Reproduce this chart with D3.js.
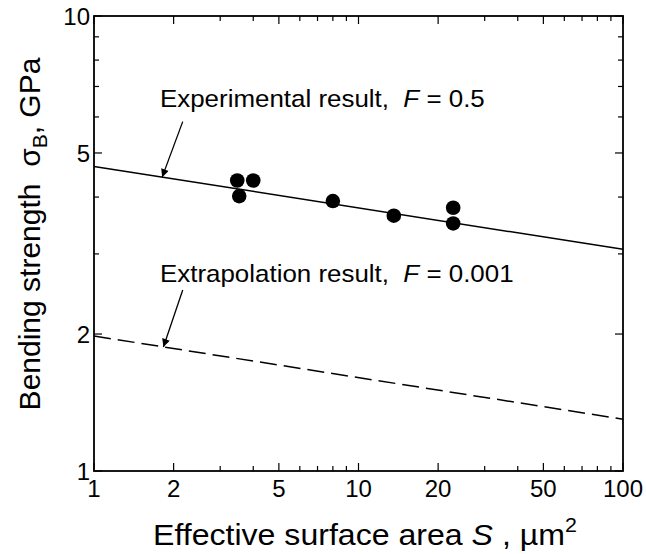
<!DOCTYPE html>
<html>
<head>
<meta charset="utf-8">
<script src="https://cdn.jsdelivr.net/npm/d3@7"></script>
<style>
  body { margin: 0; background: #fff; }
  text { font-family: "Liberation Sans", Arial, sans-serif; fill: #000; }
</style>
</head>
<body>
<div id="chart"></div>
<script>
// data
var pointS     = [3.48, 4.0, 3.54, 8.0, 13.6, 22.8, 22.8];
var pointSigma = [4.35, 4.35, 4.02, 3.92, 3.64, 3.79, 3.50];

var lineS = [1, 100];
var expSigma = [4.67, 3.07];     // experimental, F = 0.5
var extSigma = [1.98, 1.30];     // extrapolation, F = 0.001

var xTicks = [1, 2, 5, 10, 20, 50, 100];
var yTicks = [1, 2, 5, 10];

var width = 646, height = 554;
var margin = {top: 16, right: 23, bottom: 83, left: 94};

var x = d3.scaleLog()
  .domain([1, 100])
  .range([margin.left, width - margin.right]);

var y = d3.scaleLog()
  .domain([1, 10])
  .range([height - margin.bottom, margin.top]);

var svg = d3.select("#chart")
  .append("svg")
  .attr("width", width)
  .attr("height", height);

svg.append("defs")
  .append("marker")
  .attr("id", "arrow")
  .attr("viewBox", "0 0 10 10")
  .attr("refX", 10)
  .attr("refY", 5)
  .attr("markerWidth", 13)
  .attr("markerHeight", 8)
  .attr("markerUnits", "userSpaceOnUse")
  .attr("orient", "auto")
  .append("path")
  .attr("d", "M0,0L10,5L0,10Z")
  .attr("fill", "#000");

// minor ticks = all log ticks, major ones get longer
var allX = x.ticks();
var allY = y.ticks();
var isMajorX = d => xTicks.indexOf(+d.toPrecision(6)) >= 0;
var isMajorY = d => yTicks.indexOf(+d.toPrecision(6)) >= 0;

var ticksG = svg.append("g").attr("stroke", "#000").attr("stroke-width", 1.2);
var x0 = x.range()[0], x1 = x.range()[1];
var y0 = y.range()[0], y1 = y.range()[1];

allX.forEach(function(d) {
  var len = isMajorX(d) ? 8 : 5;
  ticksG.append("line").attr("x1", x(d)).attr("x2", x(d)).attr("y1", y0).attr("y2", y0 - len);
  ticksG.append("line").attr("x1", x(d)).attr("x2", x(d)).attr("y1", y1).attr("y2", y1 + len);
});
allY.forEach(function(d) {
  var len = isMajorY(d) ? 8 : 5;
  ticksG.append("line").attr("y1", y(d)).attr("y2", y(d)).attr("x1", x0).attr("x2", x0 + len);
  ticksG.append("line").attr("y1", y(d)).attr("y2", y(d)).attr("x1", x1).attr("x2", x1 - len);
});

svg.append("rect")
  .attr("x", x0)
  .attr("y", y1)
  .attr("width", x1 - x0)
  .attr("height", y0 - y1)
  .attr("fill", "none")
  .attr("stroke", "#000")
  .attr("stroke-width", 1.8);

// tick labels
svg.append("g")
  .selectAll("text")
  .data(xTicks)
  .join("text")
  .attr("x", d => x(d))
  .attr("y", y0 + 26)
  .attr("text-anchor", "middle")
  .style("font-size", "24px")
  .text(d => d);

svg.append("g")
  .selectAll("text")
  .data(yTicks)
  .join("text")
  .attr("x", x0 - 4)
  .attr("y", d => y(d))
  .attr("dy", "0.36em")
  .attr("text-anchor", "end")
  .style("font-size", "24px")
  .text(d => d);

// fitted lines
var line = d3.line()
  .x(d => x(d[0]))
  .y(d => y(d[1]));

svg.append("path")
  .datum(d3.zip(lineS, expSigma))
  .attr("d", line)
  .attr("fill", "none")
  .attr("stroke", "#000")
  .attr("stroke-width", 1.5);

svg.append("path")
  .datum(d3.zip(lineS, extSigma))
  .attr("d", line)
  .attr("fill", "none")
  .attr("stroke", "#000")
  .attr("stroke-width", 1.5)
  .attr("stroke-dasharray", "17,7");

// measured points
svg.append("g")
  .selectAll("circle")
  .data(d3.zip(pointS, pointSigma))
  .join("circle")
  .attr("cx", d => x(d[0]))
  .attr("cy", d => y(d[1]))
  .attr("r", 7.3)
  .attr("fill", "#000");

// annotations
function expAt(s) {
  var k = Math.log(expSigma[1] / expSigma[0]) / Math.log(lineS[1] / lineS[0]);
  return expSigma[0] * Math.pow(s, k);
}
function extAt(s) {
  var k = Math.log(extSigma[1] / extSigma[0]) / Math.log(lineS[1] / lineS[0]);
  return extSigma[0] * Math.pow(s, k);
}

var notes = [
  {label: "Experimental result,  ", f: "0.5", ts: 1.776, tsig: 6.31, as: 2.165, asig: 5.86, bs: 1.81, bsig: expAt(1.81)},
  {label: "Extrapolation result,  ", f: "0.001", ts: 1.776, tsig: 2.605, as: 2.165, asig: 2.50, bs: 1.83, bsig: extAt(1.83)}
];

notes.forEach(function(n) {
  var t = svg.append("text")
    .attr("transform", "translate(" + x(n.ts) + "," + y(n.tsig) + ")scale(1.08,1)")
    .style("font-size", "24px")
    .style("white-space", "pre");
  t.append("tspan").text(n.label);
  t.append("tspan").style("font-style", "italic").text("F");
  t.append("tspan").text(" = " + n.f);

  svg.append("line")
    .attr("x1", x(n.as))
    .attr("y1", y(n.asig))
    .attr("x2", x(n.bs))
    .attr("y2", y(n.bsig))
    .attr("stroke", "#000")
    .attr("stroke-width", 1.3)
    .attr("marker-end", "url(#arrow)");
});

// axis titles
var xt = svg.append("text")
  .attr("transform", "translate(153,545)scale(1.07,1)")
  .style("font-size", "30px")
  .style("white-space", "pre");
xt.append("tspan").text("Effective surface area ");
xt.append("tspan").style("font-style", "italic").text("S");
xt.append("tspan").text(" , µm");
xt.append("tspan").attr("dy", -13).style("font-size", "20px").text("2");

var yt = svg.append("text")
  .attr("transform", "translate(40,234)rotate(-90)")
  .attr("text-anchor", "middle")
  .style("font-size", "30px")
  .style("white-space", "pre");
yt.append("tspan").text("Bending strength  σ");
yt.append("tspan").attr("dy", 7).style("font-size", "21px").text("B");
yt.append("tspan").attr("dy", -7).text(", GPa");
</script>
</body>
</html>
